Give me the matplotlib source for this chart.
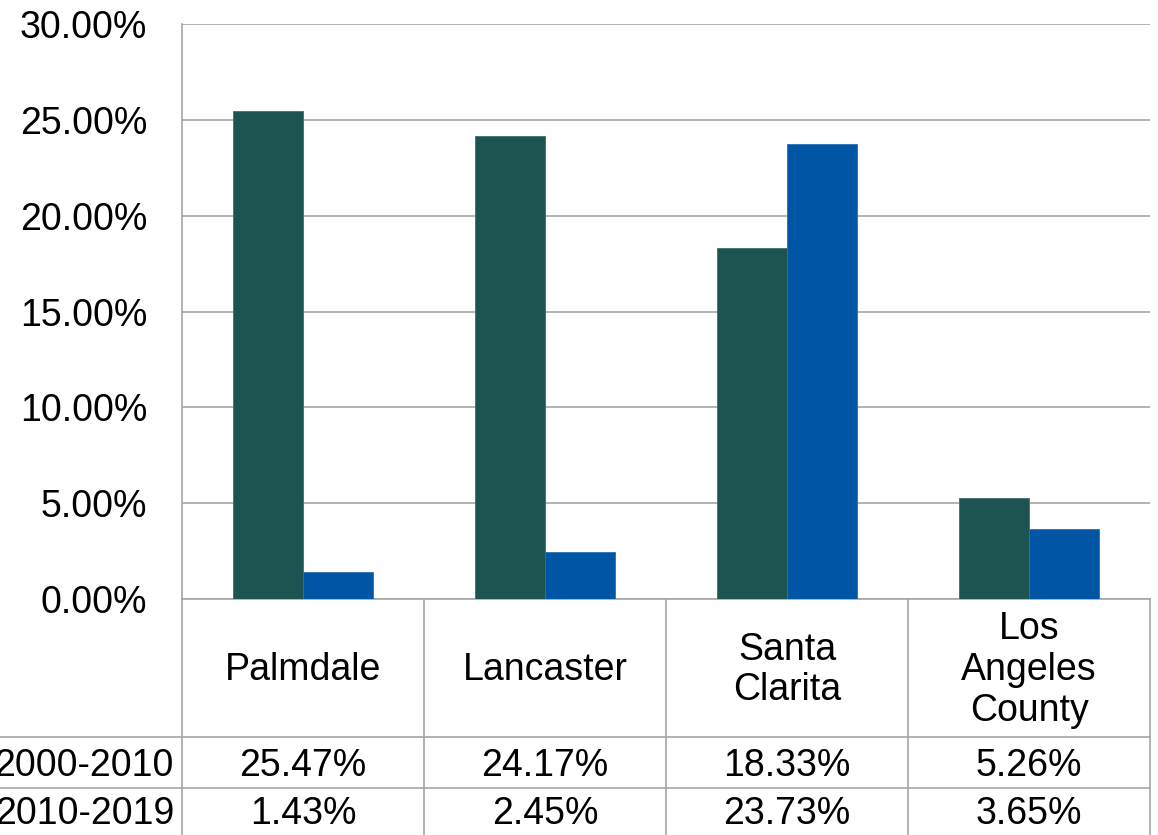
import numpy as np
import matplotlib.pyplot as plt
from matplotlib.transforms import blended_transform_factory

plt.rcParams['font.family'] = ['Liberation Sans', 'DejaVu Sans']

# population growth by period (percent)
places = ['Palmdale', 'Lancaster', 'Santa\nClarita', 'Los\nAngeles\nCounty']
periods = ['2000-2010', '2010-2019']
growth_2000_2010 = [25.47, 24.17, 18.33, 5.26]
growth_2010_2019 = [1.43, 2.45, 23.73, 3.65]
colors = ['#1b5450', '#0055a4']
yticks = [0, 5, 10, 15, 20, 25, 30]

W, H = 1158, 835
fs = 27
fig = plt.figure(figsize=(W / 100, H / 100), dpi=100)
left, right, top, bottom = 182, 1150, 24, 599
ax = fig.add_axes([left / W, 1 - bottom / H, (right - left) / W, (bottom - top) / H])

grid_c = '#a6a6a6'
x = np.arange(len(places))
bw = 0.29
series = [growth_2000_2010, growth_2010_2019]
for k, vals in enumerate(series):
    ax.bar(x + (k - 0.5) * bw, vals, width=bw, color=colors[k],
           edgecolor='#3f6f6b' if k == 0 else '#2a6fb3', linewidth=0.6, zorder=3)

ax.set_xlim(-0.5, len(places) - 0.5)
ax.set_ylim(0, 30)
ax.set_yticks(yticks)
ax.set_yticklabels([f'{t:.2f}%' for t in yticks], fontsize=fs)
ax.tick_params(axis='y', length=0, pad=25)
ax.set_xticks([])
ax.yaxis.grid(True, color=grid_c, linewidth=1.2, zorder=0)
for s in ['top', 'right']:
    ax.spines[s].set_visible(False)
for s in ['left', 'bottom']:
    ax.spines[s].set_color(grid_c)
    ax.spines[s].set_linewidth(1.2)

# data table below the plot, in axes fraction (y) and data (x)
px = 1 / (bottom - top)
trans = blended_transform_factory(ax.transData, ax.transAxes)
row_edges = [0, -(737 - bottom) * px, -(788 - bottom) * px, -(H - bottom) * px]
x0 = -0.5 - left / ((right - left) / len(places))

for yb in row_edges[1:3]:
    ax.plot([x0, len(places) - 0.5], [yb, yb], transform=trans, color=grid_c,
            linewidth=1.2, clip_on=False)
for xb in np.arange(len(places) + 1) - 0.5:
    ax.plot([xb, xb], [0, row_edges[-1]], transform=trans, color=grid_c,
            linewidth=1.2, clip_on=False)

hdr_y = (row_edges[0] + row_edges[1]) / 2 - 2 * px
for i, name in enumerate(places):
    ax.text(i, hdr_y, name, transform=trans, ha='center', va='center',
            fontsize=fs, linespacing=1.17, clip_on=False)

for r, (label, vals) in enumerate(zip(periods, series)):
    yc = (row_edges[r + 1] + row_edges[r + 2]) / 2 - 3 * px
    ax.text(-0.5 - 8 / 242, yc, label, transform=trans, ha='right', va='center',
            fontsize=fs, clip_on=False)
    for i, v in enumerate(vals):
        ax.text(i, yc, f'{v:.2f}%', transform=trans, ha='center', va='center',
                fontsize=fs, clip_on=False)

fig.savefig('out.png', dpi=100)
